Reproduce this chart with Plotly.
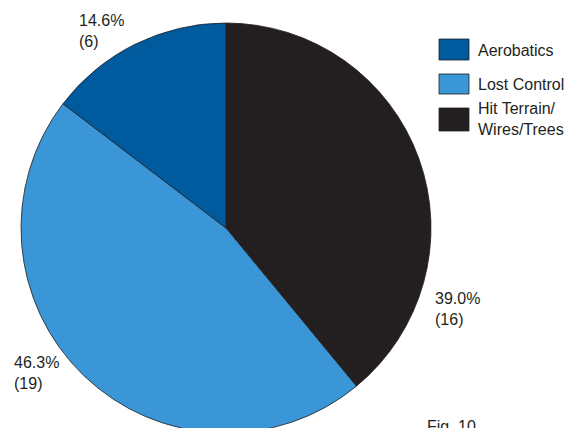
import plotly.graph_objects as go

# Accident causes (count of accidents)
categories = ["Hit Terrain/<br>Wires/Trees", "Lost Control", "Aerobatics"]
legend_names = ["Aerobatics", "Lost Control", "Hit Terrain/<br>Wires/Trees"]
counts = [16, 19, 6]
colors = ["#231f20", "#3a96d6", "#005a9e"]
legend_colors = ["#005a9e", "#3a96d6", "#231f20"]

W, H = 570, 440
FONT = "Liberation Sans Narrow, Arial Narrow, Liberation Sans, sans-serif"
TXT = "#231f20"

fig = go.Figure()
fig.add_trace(go.Pie(
    labels=categories,
    values=counts,
    sort=False,
    direction="clockwise",
    rotation=0,
    marker=dict(colors=colors, line=dict(color="#231f20", width=0.8)),
    textinfo="none",
    hoverinfo="label+value+percent",
    showlegend=False,
    domain=dict(x=[21 / W, 431 / W], y=[(H - 433) / H, (H - 23) / H]),
))

total = sum(counts)
pct = [f"{100 * c / total:.1f}%<br>({c})" for c in counts]
# label anchor points (left edge, top) in pixels
label_pos = [(433, 288), (12, 352), (77, 10)]
annotations = []
for text, (px, py) in zip(pct, label_pos):
    annotations.append(dict(
        x=px / W, y=1 - py / H, xref="paper", yref="paper",
        xanchor="left", yanchor="top", showarrow=False, align="left",
        text=text, font=dict(family=FONT, size=16, color=TXT),
    ))

# legend boxes and names
shapes = []
box_rows = [(39, 60), (74, 94), (108, 131)]
text_y = [50, 84, 119]
for name, col, (y0, y1), ty in zip(legend_names, legend_colors, box_rows, text_y):
    shapes.append(dict(
        type="rect", xref="paper", yref="paper",
        x0=439 / W, x1=469 / W, y0=1 - y1 / H, y1=1 - y0 / H,
        fillcolor=col, line=dict(color="#231f20", width=0.8),
    ))
    annotations.append(dict(
        x=476 / W, y=1 - ty / H, xref="paper", yref="paper",
        xanchor="left", yanchor="middle", showarrow=False, align="left",
        text=name, font=dict(family=FONT, size=16, color=TXT),
    ))

annotations.append(dict(
    x=425 / W, y=1 - 416 / H, xref="paper", yref="paper",
    xanchor="left", yanchor="top", showarrow=False,
    text="Fig. 10", font=dict(family=FONT, size=16, color=TXT),
))

fig.update_layout(
    width=W, height=H,
    margin=dict(l=0, r=0, t=0, b=0),
    paper_bgcolor="white", plot_bgcolor="white",
    annotations=annotations, shapes=shapes,
)

fig.write_html("out.html", post_script="document.body.style.overflow='hidden';document.body.style.margin='0';")
